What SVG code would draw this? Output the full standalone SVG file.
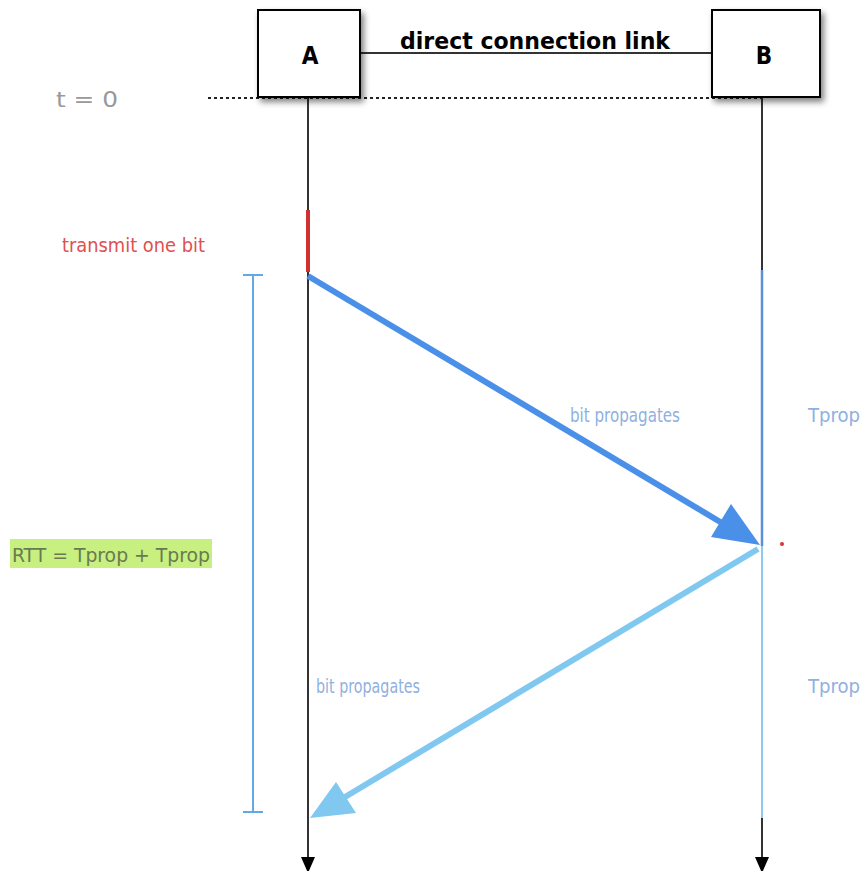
<svg xmlns="http://www.w3.org/2000/svg" width="866" height="878" viewBox="0 0 866 878">
<defs>
<style>
.box{fill:#fff;stroke:#000;stroke-width:2}
.t{font-family:"DejaVu Sans Condensed","Liberation Sans",sans-serif;font-stretch:condensed}
.lbl{font-size:19px;fill:#8fb0e0}
.life{stroke:#333;stroke-width:2;fill:none}
</style>
<filter id="sh" x="-20%" y="-20%" width="150%" height="150%"><feGaussianBlur in="SourceAlpha" stdDeviation="3"/><feOffset dx="3" dy="4"/><feComponentTransfer><feFuncA type="linear" slope="0.5"/></feComponentTransfer><feMerge><feMergeNode/><feMergeNode in="SourceGraphic"/></feMerge></filter>
<marker id="ab" markerWidth="14" markerHeight="18" refX="13" refY="7" orient="auto" markerUnits="userSpaceOnUse"><path d="M0,0 L16,7 L0,14 Z" fill="#000"/></marker>
</defs>
<rect width="866" height="878" fill="#fff"/>
<g id="connectors">
<line x1="360" y1="53" x2="712" y2="53" stroke="#333" stroke-width="2"/>
<line x1="208" y1="98" x2="765" y2="98" stroke="#222" stroke-width="2" stroke-dasharray="3,3"/>
<line class="life" x1="308" y1="97" x2="308" y2="870" marker-end="url(#ab)"/>
<line x1="308" y1="210" x2="308" y2="272" stroke="#d03030" stroke-width="4"/>
<line class="life" x1="762" y1="97" x2="762" y2="272"/>
<line x1="762" y1="270" x2="762" y2="546" stroke="#5b8fd8" stroke-width="2.5"/>
<line x1="762" y1="546" x2="762" y2="820" stroke="#8cc8f0" stroke-width="2"/>
<line class="life" x1="762" y1="818" x2="762" y2="870" marker-end="url(#ab)"/>
<line x1="308" y1="276" x2="722" y2="523" stroke="#4a90e8" stroke-width="6"/>
<polygon points="760,545 711,537 731,504" fill="#4a90e8"/>
<line x1="758" y1="549" x2="345" y2="797" stroke="#80c8f0" stroke-width="6"/>
<polygon points="310,818 336,782 356,813" fill="#80c8f0"/>
<g stroke="#60a8e8" stroke-width="2">
<line x1="253" y1="275" x2="253" y2="812"/>
<line x1="243" y1="275" x2="263" y2="275"/>
<line x1="243" y1="812" x2="263" y2="812"/>
</g>
<circle cx="782" cy="544" r="2" fill="#e03030"/>
</g>
<g id="nodeA">
<rect class="box" x="258" y="10" width="102" height="87" filter="url(#sh)"/>
<text class="t" x="310" y="64" text-anchor="middle" font-size="24" font-weight="bold" fill="#000">A</text>
</g>
<g id="nodeB">
<rect class="box" x="712" y="10" width="108" height="87" filter="url(#sh)"/>
<text class="t" x="764" y="64" text-anchor="middle" font-size="24" font-weight="bold" fill="#000">B</text>
</g>
<g id="labels">
<text class="t" x="400" y="49" font-size="23" font-weight="bold" fill="#000" textLength="270" lengthAdjust="spacingAndGlyphs">direct connection link</text>
<text class="t" x="56" y="107" font-size="21" fill="#999" textLength="62" lengthAdjust="spacingAndGlyphs">t = 0</text>
<text class="t" x="62" y="252" font-size="19" fill="#e05050" textLength="143" lengthAdjust="spacingAndGlyphs">transmit one bit</text>
<text class="t lbl" x="570" y="422" textLength="110" lengthAdjust="spacingAndGlyphs">bit propagates</text>
<text class="t lbl" x="808" y="422" textLength="52" lengthAdjust="spacingAndGlyphs">Tprop</text>
<rect x="10" y="539" width="202" height="29" fill="#c8f080"/>
<text class="t" x="12" y="562" font-size="19" fill="#6a7a50" textLength="198" lengthAdjust="spacingAndGlyphs">RTT = Tprop + Tprop</text>
<text class="t lbl" x="316" y="693" textLength="104" lengthAdjust="spacingAndGlyphs">bit propagates</text>
<text class="t lbl" x="808" y="693" textLength="52" lengthAdjust="spacingAndGlyphs">Tprop</text>
</g>
</svg>
